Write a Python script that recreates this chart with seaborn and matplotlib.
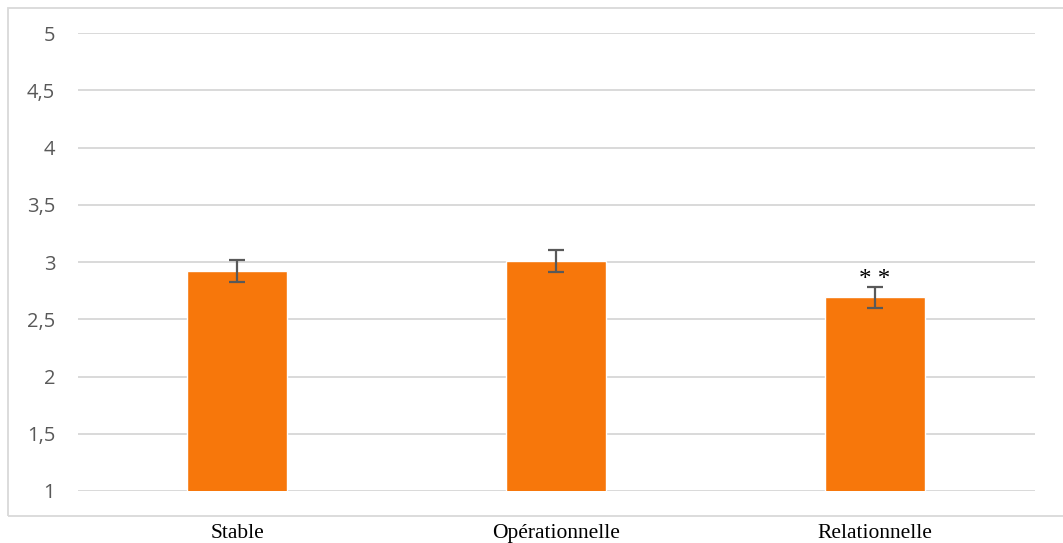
import matplotlib
matplotlib.use('Agg')
import matplotlib.pyplot as plt
import seaborn as sns
import pandas as pd
from matplotlib.patches import Rectangle

# Data
categories = ['Stable', 'Opérationnelle', 'Relationnelle']
means = [2.92, 3.01, 2.69]
errors = [0.095, 0.095, 0.095]
marks = ['', '', '* *']
y_ticks = [1, 1.5, 2, 2.5, 3, 3.5, 4, 4.5, 5]

bar_color = '#F7770B'
grid_color = '#D9D9D9'
text_gray = '#595959'

sns.set_style('white')
plt.rcParams['font.family'] = ['Open Sans', 'DejaVu Sans']

df = pd.DataFrame({'categorie': categories, 'moyenne': means})

fig = plt.figure(figsize=(10.63, 5.43), dpi=100)
W, H = 1063, 543
ax = fig.add_axes([77.5 / W, (H - 491) / H, (1034.5 - 77.5) / W, (491 - 33) / H])

# outer chart frame (right side runs off the image)
fig.patches.append(Rectangle((8 / W, (H - 516) / H), 1.05, (516 - 8) / H,
                             transform=fig.transFigure, fill=False,
                             edgecolor=grid_color, linewidth=1.3))

sns.barplot(data=df, x='categorie', y='moyenne', color=bar_color,
            width=100 / 319, errorbar=None, saturation=1, ax=ax, zorder=3)
ax.errorbar(range(len(categories)), means, yerr=errors, fmt='none',
            ecolor=text_gray, elinewidth=1.6, capsize=6, capthick=1.6, zorder=4)

for i, m in enumerate(marks):
    if m:
        ax.annotate(m, (i, means[i] + errors[i]), xytext=(0, -3),
                    textcoords='offset points', ha='center', va='bottom',
                    fontsize=18, family='Liberation Serif', color='black')

ax.set_ylim(1, 5)
ax.set_xlim(-0.5, 2.5)
ax.set_yticks(y_ticks)
ax.set_yticklabels([f'{t:g}'.replace('.', ',') for t in y_ticks],
                   color=text_gray, fontsize=14.5)
ax.yaxis.grid(True, color=grid_color, linewidth=1.4, zorder=0)
ax.set_axisbelow(True)
ax.tick_params(axis='y', length=0, pad=16)
ax.tick_params(axis='x', length=0, pad=24)
for lbl in ax.get_xticklabels():
    lbl.set_family('Liberation Serif')
    lbl.set_fontsize(15.5)
    lbl.set_color('black')
ax.set_xlabel('')
ax.set_ylabel('')
for s in ax.spines.values():
    s.set_visible(False)

fig.savefig('out.png', dpi=100)
